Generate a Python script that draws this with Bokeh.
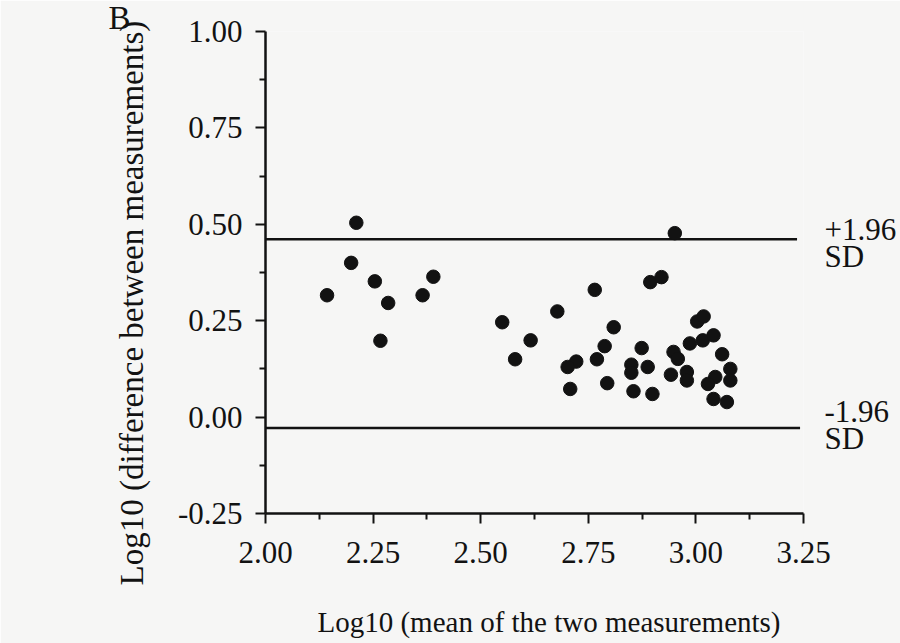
from bokeh.plotting import figure
from bokeh.models import Range1d, FixedTicker, NumeralTickFormatter, LinearAxis, Title
from bokeh.embed import file_html
from bokeh.resources import INLINE

# ---- data ----
mean_log = [2.211, 2.199, 2.254, 2.143, 2.285, 2.365, 2.390, 2.267,
            2.951, 2.894, 2.920, 2.765, 2.678, 2.550, 2.616, 2.580,
            2.809, 2.788, 2.770, 2.722, 2.702, 2.708, 2.794, 2.874,
            2.850, 2.850, 2.888, 2.855, 2.899, 2.942, 2.948, 2.958,
            2.979, 2.979, 2.986, 3.003, 3.018, 3.016, 3.041, 3.061,
            3.080, 3.080, 3.045, 3.028, 3.041, 3.072]
diff_log = [0.504, 0.400, 0.352, 0.316, 0.296, 0.316, 0.364, 0.198,
            0.477, 0.350, 0.363, 0.330, 0.274, 0.246, 0.199, 0.150,
            0.233, 0.184, 0.150, 0.144, 0.130, 0.073, 0.088, 0.179,
            0.136, 0.115, 0.130, 0.067, 0.060, 0.110, 0.169, 0.151,
            0.117, 0.095, 0.191, 0.248, 0.261, 0.199, 0.212, 0.163,
            0.125, 0.095, 0.104, 0.086, 0.047, 0.039]
x_ticks = [2.00, 2.25, 2.50, 2.75, 3.00, 3.25]
y_ticks = [-0.25, 0.00, 0.25, 0.50, 0.75, 1.00]
sd_levels = [0.461, -0.028]
sd_start = [2.00, 2.00]
sd_end = [3.235, 3.242]
sd_texts = ["+1.96", "SD", "-1.96", "SD"]
x_title = "Log10 (mean of the two measurements)"
y_title = "Log10 (difference between measurements)"
panel_letter = "B"

FONT = "Liberation Serif"
INK = "#121212"
BG = "#f6f6f5"

p = figure(width=900, height=643,
           x_range=Range1d(x_ticks[0], x_ticks[-1]),
           y_range=Range1d(y_ticks[0], y_ticks[-1]),
           output_backend="svg", toolbar_location=None,
           min_border_left=265, min_border_right=97,
           min_border_top=31, min_border_bottom=130)
p.background_fill_color = BG
p.border_fill_color = BG
p.outline_line_color = None
p.xgrid.visible = False
p.ygrid.visible = False

x_minor = [(a + b) / 2 for a, b in zip(x_ticks[:-1], x_ticks[1:])]
y_minor = [(a + b) / 2 for a, b in zip(y_ticks[:-1], y_ticks[1:])]
p.xaxis[0].ticker = FixedTicker(ticks=x_ticks, minor_ticks=x_minor)
p.yaxis[0].ticker = FixedTicker(ticks=y_ticks, minor_ticks=y_minor)
p.xaxis[0].formatter = NumeralTickFormatter(format="0.00")
p.yaxis[0].formatter = NumeralTickFormatter(format="0.00")

for ax in (p.xaxis[0], p.yaxis[0]):
    ax.axis_line_width = 2.5
    ax.axis_line_color = INK
    ax.major_tick_line_color = INK
    ax.minor_tick_line_color = INK
    ax.major_tick_line_width = 2
    ax.minor_tick_line_width = 2
    ax.major_tick_in = 0
    ax.minor_tick_in = 0
    ax.major_tick_out = 10
    ax.minor_tick_out = 6
    ax.major_label_text_font = FONT
    ax.major_label_text_font_size = "31px"
    ax.major_label_text_color = INK
    ax.axis_label_text_font = FONT
    ax.axis_label_text_font_style = "normal"
    ax.axis_label_text_color = INK

# leading no-break spaces nudge the centred title ~15px right, as in the reference
p.xaxis[0].axis_label = "\u00a0" * 4 + x_title
p.xaxis[0].axis_label_text_font_size = "29px"
p.xaxis[0].major_label_standoff = 18
p.yaxis[0].major_label_standoff = 13
p.xaxis[0].axis_label_standoff = 40

# right-hand axis carrying the "+1.96 SD" / "-1.96 SD" labels
label_pos = [0.4876, 0.416, 0.0156, -0.055]
sd_axis = LinearAxis(ticker=FixedTicker(ticks=label_pos, minor_ticks=[]),
                     major_label_overrides=dict(zip(label_pos, sd_texts)))
sd_axis.axis_line_color = None
sd_axis.major_tick_line_color = None
sd_axis.minor_tick_line_color = None
sd_axis.major_tick_out = 0
sd_axis.major_tick_in = 0
sd_axis.major_label_standoff = 21
sd_axis.major_label_text_font = FONT
sd_axis.major_label_text_font_size = "31px"
sd_axis.major_label_text_color = INK
p.add_layout(sd_axis, "right")

p.segment(x0=sd_start, y0=sd_levels, x1=sd_end, y1=sd_levels,
          line_width=2.5, line_color=INK)
p.scatter(mean_log, diff_log, size=13.5, fill_color=INK, line_color=INK)

# y-axis title as a side title (lets it sit lower than the frame centre)
p.add_layout(Title(text=y_title, align="left", offset=-72, standoff=50,
                   text_font=FONT, text_font_size="33px",
                   text_font_style="normal", text_color=INK), "left")
# panel letter
p.add_layout(Title(text=panel_letter, align="left", offset=-157, standoff=-8,
                   text_font=FONT, text_font_size="33px",
                   text_font_style="normal", text_color=INK), "above")

html = file_html(p, INLINE)
html = html.replace("<body>", '<body style="background:%s">' % BG, 1)
open("out.html", "w").write(html)
